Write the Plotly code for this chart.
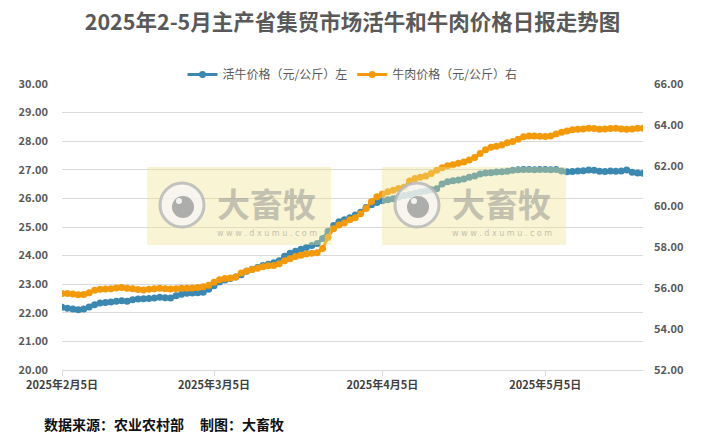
import pandas as pd
import plotly.graph_objects as go

# ---- data ----
dates = pd.date_range("2025-02-05", "2025-05-23", freq="D")

cattle_price = [  # 活牛价格 (元/公斤), left axis
    22.19, 22.16, 22.13, 22.11, 22.13, 22.20, 22.28, 22.34, 22.36, 22.38,
    22.40, 22.42, 22.40, 22.46, 22.48, 22.49, 22.50, 22.52, 22.54, 22.53,
    22.52, 22.60, 22.65, 22.68, 22.69, 22.70, 22.72, 22.82, 22.95, 23.08,
    23.15, 23.20, 23.25, 23.33, 23.45, 23.52, 23.58, 23.65, 23.70, 23.75,
    23.82, 23.98, 24.08, 24.15, 24.22, 24.28, 24.35, 24.42, 24.60, 24.85,
    25.05, 25.18, 25.25, 25.32, 25.42, 25.52, 25.68, 25.78, 25.86, 25.92,
    25.95, 25.99, 26.05, 26.10, 26.14, 26.18, 26.22, 26.26, 26.30, 26.34,
    26.50, 26.58, 26.62, 26.64, 26.68, 26.74, 26.78, 26.85, 26.89, 26.90,
    26.92, 26.93, 26.95, 26.98, 27.00, 27.01, 27.01, 27.00, 27.01, 27.01,
    27.00, 27.01, 26.96, 26.93, 26.94, 26.96, 26.97, 26.99, 26.98, 26.95,
    26.94, 26.96, 26.95, 26.96, 26.99, 26.91, 26.89, 26.88,
]

beef_price = [  # 牛肉价格 (元/公斤), right axis
    55.75, 55.75, 55.72, 55.68, 55.70, 55.78, 55.90, 55.95, 55.97, 55.98,
    56.02, 56.04, 56.00, 55.98, 55.94, 55.92, 55.95, 55.98, 56.00, 55.98,
    55.96, 55.98, 56.00, 56.00, 56.02, 56.04, 56.08, 56.15, 56.30, 56.42,
    56.48, 56.50, 56.55, 56.75, 56.85, 56.92, 56.98, 57.05, 57.10, 57.12,
    57.20, 57.35, 57.45, 57.55, 57.62, 57.68, 57.72, 57.74, 57.95, 58.50,
    58.92, 59.10, 59.20, 59.35, 59.45, 59.65, 59.90, 60.25, 60.48, 60.62,
    60.72, 60.80, 60.88, 60.95, 61.25, 61.38, 61.44, 61.50, 61.62, 61.78,
    61.90, 62.00, 62.05, 62.12, 62.18, 62.28, 62.40, 62.60, 62.78, 62.90,
    62.95, 63.02, 63.12, 63.18, 63.30, 63.42, 63.45, 63.45, 63.44, 63.43,
    63.45, 63.55, 63.64, 63.70, 63.76, 63.78, 63.80, 63.84, 63.82, 63.79,
    63.80, 63.82, 63.84, 63.80, 63.78, 63.80, 63.84, 63.84,
]

tick_dates = ["2025-02-05", "2025-03-05", "2025-04-05", "2025-05-05"]
tick_labels = ["2025年2月5日", "2025年3月5日", "2025年4月5日", "2025年5月5日"]

title_text = "2025年2-5月主产省集贸市场活牛和牛肉价格日报走势图"
series_names = ["活牛价格（元/公斤）左", "牛肉价格（元/公斤）右"]
footer_text = "数据来源：农业农村部\u00a0\u00a0\u00a0\u00a0\u00a0制图：大畜牧"

BLUE = "#3C88B0"
ORANGE = "#F39A0B"
FONT = "Noto Sans CJK SC"

fig = go.Figure()
fig.add_trace(go.Scatter(
    x=dates, y=cattle_price, name=series_names[0], mode="lines+markers",
    line=dict(color=BLUE, width=3), marker=dict(color=BLUE, size=7),
    yaxis="y"))
fig.add_trace(go.Scatter(
    x=dates, y=beef_price, name=series_names[1], mode="lines+markers",
    line=dict(color=ORANGE, width=3), marker=dict(color=ORANGE, size=7),
    yaxis="y2"))

# ---- watermarks (semi-transparent overlay, drawn above the data) ----
W, H = 581.0, 286.0  # plot area size in px


def px(xp):
    return (xp - 62) / W


def py(yp):
    return (370 - yp) / H


shapes = []
annotations = []
for dx in (0, 235):
    shapes.append(dict(type="rect", xref="paper", yref="paper", layer="above",
                       x0=px(147 + dx), x1=px(331 + dx), y0=py(245), y1=py(167),
                       fillcolor="rgba(238,226,140,0.38)", line=dict(width=0)))
    cx, cy = 182 + dx, 205
    shapes.append(dict(type="circle", xref="paper", yref="paper", layer="above",
                       x0=px(cx - 22), x1=px(cx + 22), y0=py(cy + 22), y1=py(cy - 22),
                       fillcolor="rgba(245,245,245,0.75)",
                       line=dict(color="rgba(185,185,185,0.85)", width=3)))
    shapes.append(dict(type="circle", xref="paper", yref="paper", layer="above",
                       x0=px(cx + 1 - 11), x1=px(cx + 1 + 11), y0=py(cy + 2 + 11), y1=py(cy + 2 - 11),
                       fillcolor="rgba(160,160,160,0.85)", line=dict(width=0)))
    shapes.append(dict(type="circle", xref="paper", yref="paper", layer="above",
                       x0=px(cx - 6), x1=px(cx), y0=py(cy - 1), y1=py(cy - 7),
                       fillcolor="rgba(250,250,250,0.9)", line=dict(width=0)))
    annotations.append(dict(text="大畜牧", xref="paper", yref="paper",
                            x=px(266 + dx), y=py(203), xanchor="center", yanchor="middle",
                            showarrow=False, opacity=0.5, borderpad=0,
                            font=dict(family=FONT, size=33, color="#8f8f8f", weight="bold")))
    annotations.append(dict(text="w w w . d x u m u . c o m", xref="paper", yref="paper",
                            x=px(267 + dx), y=py(233), xanchor="center", yanchor="middle",
                            showarrow=False, opacity=0.5, borderpad=0,
                            font=dict(family="DejaVu Sans", size=8, color="#8f8f8f")))

annotations.append(dict(text=footer_text, xref="paper", yref="paper",
                        x=px(42), y=py(424), xanchor="left", yanchor="middle",
                        showarrow=False,
                        font=dict(family=FONT, size=14, color="#111111", weight="bold")))

fig.update_layout(
    width=705, height=439,
    margin=dict(l=62, r=62, t=84, b=69),
    paper_bgcolor="white", plot_bgcolor="white",
    font=dict(family=FONT, color="#595959"),
    title=dict(text=title_text, x=0.5, xanchor="center", xref="container",
               y=1 - 22 / 439, yanchor="middle", yref="container",
               font=dict(family=FONT, size=21.5, color="#595959", weight="bold")),
    legend=dict(orientation="h", x=0.5, xanchor="center", y=py(60), yanchor="top",
                font=dict(family=FONT, size=12, color="#595959"),
                bgcolor="rgba(0,0,0,0)", itemwidth=30, tracegroupgap=0),
    xaxis=dict(type="date", range=["2025-02-05", "2025-05-23"],
               tickvals=tick_dates, ticktext=tick_labels,
               showgrid=False, showline=True, linecolor="#D9D9D9", linewidth=1,
               ticks="outside", ticklen=5, tickcolor="#D9D9D9",
               tickfont=dict(family=FONT, size=11, color="#404040", weight="bold"),
               zeroline=False),
    yaxis=dict(range=[20, 30], dtick=1, tickformat=".2f",
               showgrid=True, gridcolor="#D9D9D9", gridwidth=1, zeroline=False,
               showline=False, ticks="", ticklabelstandoff=13,
               tickfont=dict(family=FONT, size=11, color="#595959", weight="bold")),
    yaxis2=dict(range=[52, 66], dtick=2, tickformat=".2f", overlaying="y", side="right",
                showgrid=False, zeroline=False, showline=False, ticks="",
                ticklabelstandoff=10,
                tickfont=dict(family=FONT, size=11, color="#595959", weight="bold")),
    shapes=shapes,
    annotations=annotations,
    showlegend=True,
)

fig.write_html("out.html", config={"displayModeBar": False},
               post_script="document.body.style.margin='0px';")
